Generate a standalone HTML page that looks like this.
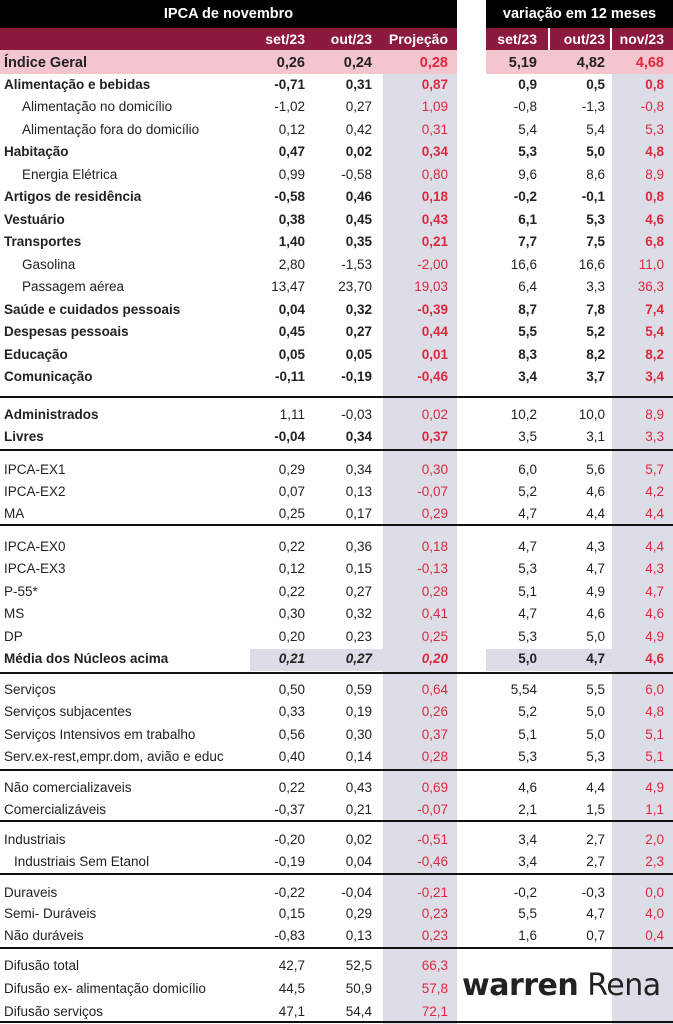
<!DOCTYPE html>
<html><head><meta charset="utf-8"><style>
body{margin:0;background:#fff;}
#t{position:relative;width:673px;height:1024px;overflow:hidden;font-family:"Liberation Sans",Arial,sans-serif;font-size:13.5px;color:#222;}
.abs{position:absolute;}
.v{position:absolute;text-align:right;width:70px;line-height:22px;}
.lb{position:absolute;line-height:22px;white-space:nowrap;}
.hd{color:#fff;font-weight:bold;line-height:22px;position:absolute;text-align:right;width:70px;font-size:14px;}
</style></head><body>
<div id="t">
<div class="abs" style="left:0;top:0;width:457px;height:28px;background:#000;color:#fff;font-weight:bold;text-align:center;line-height:28px;font-size:14.5px;">IPCA de novembro</div>
<div class="abs" style="left:486px;top:0;width:187px;height:28px;background:#000;color:#fff;font-weight:bold;text-align:center;line-height:28px;font-size:14.5px;">variação em 12 meses</div>
<div class="abs" style="left:0;top:28px;width:457px;height:22px;background:#8c1a3c;"></div>
<div class="abs" style="left:486px;top:28px;width:62px;height:22px;background:#8c1a3c;"></div>
<div class="abs" style="left:550px;top:28px;width:60px;height:22px;background:#8c1a3c;"></div>
<div class="abs" style="left:612px;top:28px;width:61px;height:22px;background:#8c1a3c;"></div>
<div class="abs" style="left:0;top:50px;width:457px;height:24px;background:#f3c6cf;"></div>
<div class="abs" style="left:486px;top:50px;width:187px;height:24px;background:#f3c6cf;"></div>
<div class="abs" style="left:383px;top:74px;width:74px;height:950px;background:#dcdde6;"></div>
<div class="abs" style="left:612px;top:74px;width:61px;height:950px;background:#dcdde6;"></div>
<div class="abs" style="left:250px;top:649px;width:133px;height:22px;background:#dcdde6;"></div>
<div class="abs" style="left:486px;top:649px;width:126px;height:22px;background:#dcdde6;"></div>
<div class="abs" style="left:462px;top:968px;font-family:'DejaVu Sans',sans-serif;font-size:30px;color:#222;letter-spacing:-0.5px;white-space:nowrap;"><b>warren</b> Rena</div>
</div>
<script>
const headers=["set/23","out/23","Projeção","set/23","out/23","nov/23"];
const colRight=[305,372,448,537,605,664];
const labels=["Índice Geral","Alimentação e bebidas","Alimentação no domicílio","Alimentação fora do domicílio","Habitação","Energia Elétrica","Artigos de residência","Vestuário","Transportes","Gasolina","Passagem aérea","Saúde e cuidados pessoais","Despesas pessoais","Educação","Comunicação","Administrados","Livres","IPCA-EX1","IPCA-EX2","MA","IPCA-EX0","IPCA-EX3","P-55*","MS","DP","Média dos Núcleos acima","Serviços","Serviços subjacentes","Serviços Intensivos em trabalho","Serv.ex-rest,empr.dom, avião e educ","Não comercializaveis","Comercializáveis","Industriais","Industriais Sem Etanol","Duraveis","Semi- Duráveis","Não duráveis","Difusão total","Difusão ex- alimentação domicílio","Difusão serviços"];
const values=[
["0,26","0,24","0,28","5,19","4,82","4,68"],
["-0,71","0,31","0,87","0,9","0,5","0,8"],
["-1,02","0,27","1,09","-0,8","-1,3","-0,8"],
["0,12","0,42","0,31","5,4","5,4","5,3"],
["0,47","0,02","0,34","5,3","5,0","4,8"],
["0,99","-0,58","0,80","9,6","8,6","8,9"],
["-0,58","0,46","0,18","-0,2","-0,1","0,8"],
["0,38","0,45","0,43","6,1","5,3","4,6"],
["1,40","0,35","0,21","7,7","7,5","6,8"],
["2,80","-1,53","-2,00","16,6","16,6","11,0"],
["13,47","23,70","19,03","6,4","3,3","36,3"],
["0,04","0,32","-0,39","8,7","7,8","7,4"],
["0,45","0,27","0,44","5,5","5,2","5,4"],
["0,05","0,05","0,01","8,3","8,2","8,2"],
["-0,11","-0,19","-0,46","3,4","3,7","3,4"],
["1,11","-0,03","0,02","10,2","10,0","8,9"],
["-0,04","0,34","0,37","3,5","3,1","3,3"],
["0,29","0,34","0,30","6,0","5,6","5,7"],
["0,07","0,13","-0,07","5,2","4,6","4,2"],
["0,25","0,17","0,29","4,7","4,4","4,4"],
["0,22","0,36","0,18","4,7","4,3","4,4"],
["0,12","0,15","-0,13","5,3","4,7","4,3"],
["0,22","0,27","0,28","5,1","4,9","4,7"],
["0,30","0,32","0,41","4,7","4,6","4,6"],
["0,20","0,23","0,25","5,3","5,0","4,9"],
["0,21","0,27","0,20","5,0","4,7","4,6"],
["0,50","0,59","0,64","5,54","5,5","6,0"],
["0,33","0,19","0,26","5,2","5,0","4,8"],
["0,56","0,30","0,37","5,1","5,0","5,1"],
["0,40","0,14","0,28","5,3","5,3","5,1"],
["0,22","0,43","0,69","4,6","4,4","4,9"],
["-0,37","0,21","-0,07","2,1","1,5","1,1"],
["-0,20","0,02","-0,51","3,4","2,7","2,0"],
["-0,19","0,04","-0,46","3,4","2,7","2,3"],
["-0,22","-0,04","-0,21","-0,2","-0,3","0,0"],
["0,15","0,29","0,23","5,5","4,7","4,0"],
["-0,83","0,13","0,23","1,6","0,7","0,4"],
["42,7","52,5","66,3"],
["44,5","50,9","57,8"],
["47,1","54,4","72,1"]];
// style flags: 0 normal, 1 bold all, 2 bold left only, 3 media row, 4 label bold only
const rowStyle=[1,1,0,0,1,0,1,1,1,0,0,1,1,1,1,4,2,0,0,0,0,0,0,0,0,3,0,0,0,0,0,0,0,0,0,0,0,0,0,0];
const indent=[0,0,1,1,0,1,0,0,0,1,1,0,0,0,0,0,0,0,0,0,0,0,0,0,0,0,0,0,0,0,0,0,0,1,0,0,0,0,0,0];
const rowY=[51,74,96,119,141,164,186,209,231,254,276,299,321,344,366,404,426,459,481,503,536,558,581,603,626,648,679,701,724,746,777,799,829,851,882,903,925,955,978,1001];
const sepY=[396,449,524,672,769,820,873,947,1021];
const t=document.getElementById('t');
headers.forEach((h,i)=>{const d=document.createElement('div');d.className='hd';d.style.left=(colRight[i]-70)+'px';d.style.top='28px';d.textContent=h;


t.appendChild(d);});
labels.forEach((l,r)=>{const st=rowStyle[r];const y=rowY[r]+(r===0?1:0);
const d=document.createElement('div');d.className='lb';d.style.left=(indent[r]?(r===33?14:22):4)+'px';d.style.top=y+'px';d.textContent=l;
if(st>0)d.style.fontWeight='bold';if(r===0)d.style.fontSize='14.5px';


t.appendChild(d);
values[r].forEach((v,c)=>{const e=document.createElement('div');e.className='v';e.style.left=(colRight[c]-70)+'px';e.style.top=y+'px';e.textContent=v;
const red=(c===2||c===5);if(red)e.style.color='#e0283c';
let b=(st===1)||(st===2&&c<3)||(st===3);if(b)e.style.fontWeight='bold';
if(st===3&&c<3)e.style.fontStyle='italic';if(r===0)e.style.fontSize='14.5px';


t.appendChild(e);});});
sepY.forEach(y=>{const s=document.createElement('div');s.className='abs';s.style.cssText='left:0;width:673px;height:2px;background:#111;top:'+y+'px';


t.appendChild(s);});
</script>
</body></html>
